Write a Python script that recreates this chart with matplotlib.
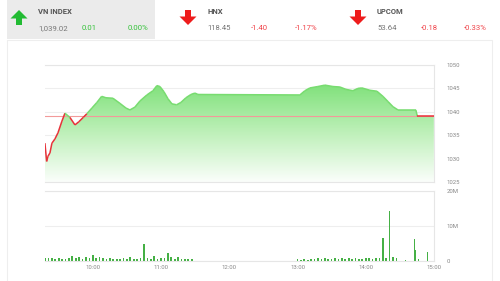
import numpy as np
import matplotlib.pyplot as plt
from matplotlib.colors import LinearSegmentedColormap
from matplotlib.patches import Rectangle, FancyArrow
from matplotlib.collections import LineCollection

plt.rcParams['font.family'] = ['Roboto', 'DejaVu Sans']

# header quotes
idx_names = ['VN INDEX', 'HNX', 'UPCOM']
idx_values = ['1,039.02', '118.45', '53.64']
idx_changes = ['0.01', '-1.40', '-0.18']
idx_pcts = ['0.00%', '-1.17%', '-0.33%']
idx_up = [True, False, False]

ref_price = 1039.01

# intraday VN-Index (hours, points)
price_t = [9.299, 9.324, 9.343, 9.372, 9.401, 9.445, 9.489, 9.547, 9.591, 9.664,
           9.737, 9.796, 9.858, 9.912, 9.985, 10.058, 10.127, 10.19, 10.292, 10.394,
           10.482, 10.54, 10.613, 10.686, 10.788, 10.876, 10.934, 10.978, 11.036, 11.095,
           11.153, 11.222, 11.285, 11.358, 11.431, 11.489, 11.533, 13.022, 13.095, 13.168,
           13.285, 13.387, 13.504, 13.606, 13.693, 13.796, 13.869, 13.927, 14.044, 14.146,
           14.234, 14.307, 14.38, 14.453, 14.715, 14.737, 14.978]
price_v = [1033.3, 1029.4, 1030.5, 1031.2, 1033.3, 1034.2, 1035.5, 1038.0, 1039.7, 1038.8,
           1037.2, 1037.9, 1038.8, 1039.6, 1040.8, 1042.0, 1043.3, 1043.0, 1042.9, 1041.8,
           1040.8, 1040.4, 1041.0, 1042.3, 1043.6, 1044.5, 1045.6, 1045.4, 1044.3, 1042.8,
           1041.7, 1041.5, 1042.0, 1043.0, 1043.7, 1044.0, 1043.7, 1043.6, 1044.5, 1045.1,
           1045.4, 1045.7, 1045.4, 1045.3, 1044.8, 1044.5, 1045.0, 1045.1, 1044.6, 1044.4,
           1043.3, 1042.2, 1041.1, 1040.4, 1040.4, 1039.02, 1039.02]

# volume (millions), morning and afternoon every 3 minutes, then closing bars
am_start, pm_start, step = 9.30, 13.00, 0.05
am_vol = [0.9, 0.8, 0.9, 0.6, 0.7, 0.5, 0.6, 0.8, 1.4, 0.9,
          1.2, 0.6, 1.0, 0.7, 1.7, 0.9, 1.0, 0.8, 0.6, 0.7,
          0.5, 0.6, 0.5, 0.7, 0.6, 1.1, 0.5, 0.6, 0.7, 4.8,
          0.8, 0.6, 1.4, 0.5, 0.7, 0.9, 2.3, 1.0, 0.6, 1.1,
          0.5, 0.6, 0.5, 0.6]
pm_vol = [0.4, 0.3, 0.4, 0.3, 0.5, 0.6, 0.7, 0.5, 0.8, 0.6,
          0.5, 0.7, 0.6, 0.9, 0.6, 0.7, 0.5, 0.8, 0.6, 0.5,
          0.9, 0.7, 0.6, 0.8, 0.9, 6.6, 0.9, 14.4, 1.0, 0.8]
late_t = [14.58, 14.715, 14.73, 14.77, 14.905]
late_vol = [0.3, 6.1, 3.0, 0.4, 2.6]

W, H = 500, 281
fig = plt.figure(figsize=(W / 100, H / 100), dpi=100)

def px_axes(l, t, r, b):
    return fig.add_axes([l / W, 1 - b / H, (r - l) / W, (b - t) / H])

# background / header
bg = fig.add_axes([0, 0, 1, 1])
bg.set_xlim(0, W)
bg.set_ylim(H, 0)
bg.axis('off')
bg.add_patch(Rectangle((7, 0), 148, 39, color='#ebebeb', lw=0))
bg.add_patch(Rectangle((7, 40), 485, 250, fill=False, ec='#eeeeee', lw=0.8))

xs = [19, 188, 358]
for i in range(3):
    x0 = xs[i]
    if idx_up[i]:
        bg.add_patch(FancyArrow(x0, 25, 0, -15, width=6, head_width=17, head_length=8.5,
                                length_includes_head=True, color='#22bb33', lw=0))
        col = '#35c23a'
    else:
        bg.add_patch(FancyArrow(x0, 10, 0, 15, width=6, head_width=17, head_length=8.5,
                                length_includes_head=True, color='#ee1c1c', lw=0))
        col = '#f0444a'
    tx = x0 + 19
    bg.text(tx, 11, idx_names[i], fontsize=5.5, fontweight='bold', color='#555555', va='center')
    bg.text(tx, 28, idx_values[i], fontsize=5.6, color='#777777', va='center')
    bg.text(tx + 44, 28, idx_changes[i], fontsize=5.6, color=col, va='center')
    bg.text(tx + 110, 28, idx_pcts[i], fontsize=5.6, color=col, va='center', ha='right')

# price panel
ax = px_axes(45, 65, 434, 182)
ax.set_xlim(9.3, 14.98)
ax.set_ylim(1025, 1050)

t = np.array(price_t)
v = np.array(price_v)
cmap = LinearSegmentedColormap.from_list('g', ['#fbfefb', '#bdf0b8', '#7ce077'])
grad = np.linspace(0, 1, 256).reshape(-1, 1)
img = ax.imshow(grad, extent=[9.3, 14.98, 1025, 1046.5], origin='lower', aspect='auto',
                cmap=cmap, zorder=1)
poly = ax.fill_between(t, v, 1025, color='none', lw=0)
img.set_clip_path(poly.get_paths()[0], transform=ax.transData)

ax.axhline(ref_price, color='#f29a9a', lw=0.8, zorder=3)

segs = [[(t[i], v[i]), (t[i + 1], v[i + 1])] for i in range(len(t) - 1)]
cols = ['#e8323a' if v[i] < ref_price + 0.05 else '#78dc70' for i in range(len(t) - 1)]
ax.add_collection(LineCollection(segs, colors=cols, linewidths=1.1, zorder=4))

ax.set_yticks([1025, 1030, 1035, 1040, 1045, 1050])
ax.yaxis.tick_right()
ax.tick_params(axis='y', length=0, pad=9, labelsize=4.3, labelcolor='#888888')
ax.set_xticks([])
ax.grid(axis='y', color='#eeeeee', lw=0.8)
ax.set_axisbelow(True)
ax.spines['left'].set_visible(False)
for s in ['top', 'right', 'bottom']:
    ax.spines[s].set_color('#e6e6e6')
    ax.spines[s].set_linewidth(0.8)

# volume panel
vx = px_axes(45, 191, 434, 260.7)
vx.set_xlim(9.3, 14.98)
vx.set_ylim(0, 20)
am_t = am_start + step * np.arange(len(am_vol))
pm_t = pm_start + step * np.arange(len(pm_vol))
bar_col = '#45b045'
vx.bar(am_t, am_vol, width=0.025, color=bar_col, lw=0)
vx.bar(pm_t, pm_vol, width=0.025, color=bar_col, lw=0)
vx.bar(late_t, late_vol, width=0.02, color=bar_col, lw=0)
vx.set_yticks([0, 10, 20])
vx.set_yticklabels(['0', '10M', '20M'])
vx.yaxis.tick_right()
vx.set_xticks([10, 11, 12, 13, 14, 15])
vx.set_xticklabels(['10:00', '11:00', '12:00', '13:00', '14:00', '15:00'])
vx.tick_params(length=0, labelsize=4.3, labelcolor='#888888')
vx.tick_params(axis='y', pad=9)
vx.tick_params(axis='x', pad=3)
vx.grid(axis='y', color='#eeeeee', lw=0.8)
vx.set_axisbelow(True)
vx.spines['left'].set_visible(False)
for s in ['top', 'right', 'bottom']:
    vx.spines[s].set_color('#e6e6e6')
    vx.spines[s].set_linewidth(0.8)

fig.savefig('out.png', dpi=100)
